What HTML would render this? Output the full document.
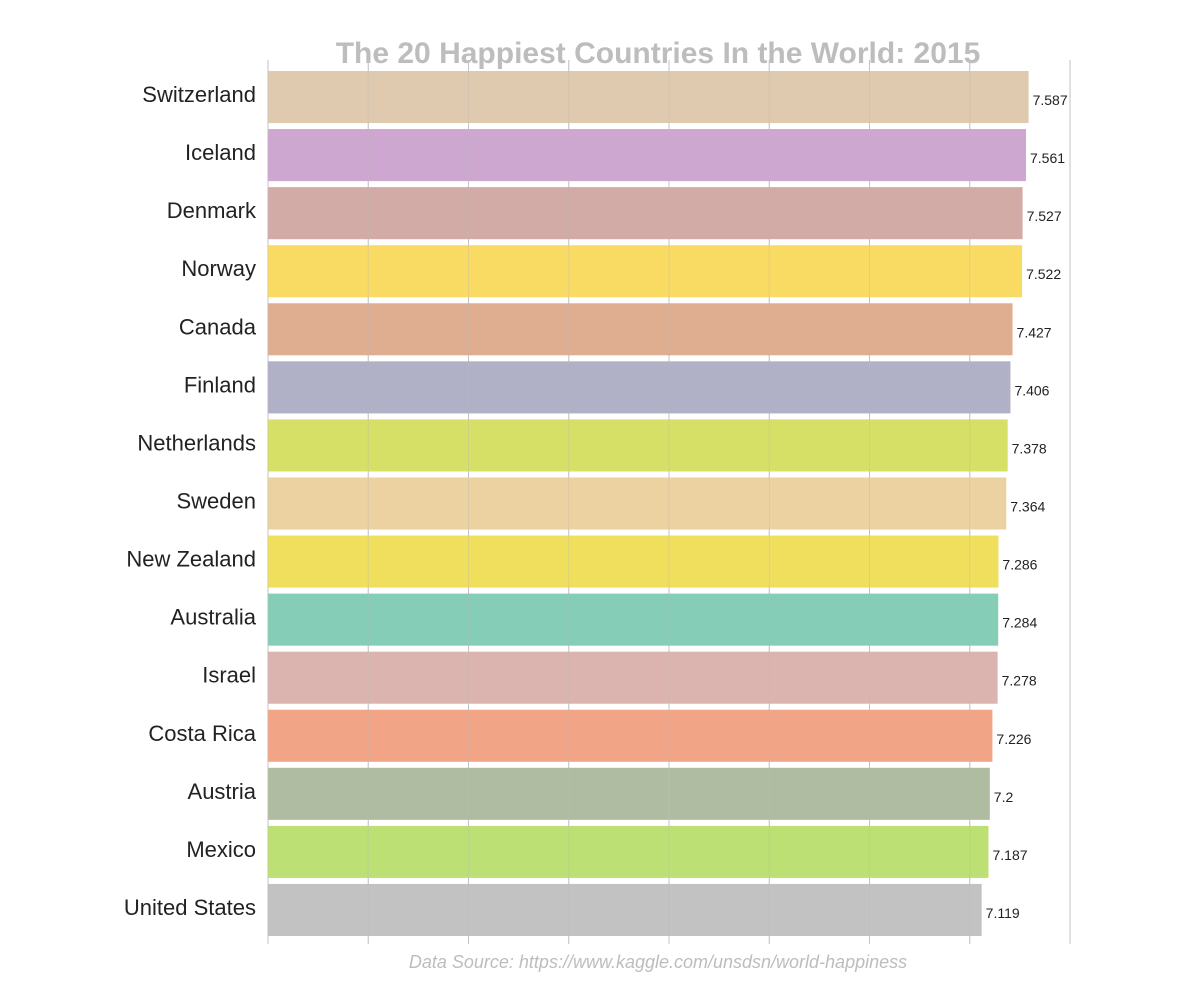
<!DOCTYPE html>
<html><head><meta charset="utf-8"><style>
body{margin:0;background:#fff;}
svg{display:block;font-family:"Liberation Sans",sans-serif;}
</style></head><body>
<svg id="chart" width="1200" height="1000" viewBox="0 0 1200 1000">
<text x="658" y="63" text-anchor="middle" font-size="30" font-weight="bold" fill="#bdbdbd">The 20 Happiest Countries In the World: 2015</text>
<g id="grid"></g><g id="bars"></g><g id="gridtop"></g>
<text x="658" y="968" text-anchor="middle" font-size="18" font-style="italic" fill="#bdbdbd">Data Source: https://www.kaggle.com/unsdsn/world-happiness</text>
</svg>
<script>
const countries=["Switzerland","Iceland","Denmark","Norway","Canada","Finland","Netherlands","Sweden","New Zealand","Australia","Israel","Costa Rica","Austria","Mexico","United States"];
const scores=[7.587,7.561,7.527,7.522,7.427,7.406,7.378,7.364,7.286,7.284,7.278,7.226,7.2,7.187,7.119];
const labels=["7.587","7.561","7.527","7.522","7.427","7.406","7.378","7.364","7.286","7.284","7.278","7.226","7.2","7.187","7.119"];
const colors=["#dfcaaf","#cda7d0","#d2aaa6","#f9da62","#dfad90","#b0b0c7","#d6df66","#ecd2a0","#efdf5c","#85cdb6","#dbb4b0","#f2a486","#b0bca2","#bde075","#c2c2c2"];
const xTicks=[0,1,2,3,4,5,6,7,8];
const NS="http://www.w3.org/2000/svg";
const x0=268,x1=1070,xmax=8,yTop=68,yBot=939;
const xs=v=>x0+(x1-x0)*v/xmax;
const band=(yBot-yTop)/countries.length;
const yb=i=>yTop+i*band;
function mk(t,a,p){const e=document.createElementNS(NS,t);for(const k in a)e.setAttribute(k,a[k]);p.appendChild(e);return e;}
const grid=document.getElementById('grid'),bars=document.getElementById('bars'),gt=document.getElementById('gridtop');
xTicks.forEach(t=>{
 const l=mk('line',{x1:xs(t),x2:xs(t),y1:60,y2:944,stroke:'#c8c8c8','stroke-width':1},grid);
 
 
 const l2=mk('line',{x1:xs(t),x2:xs(t),y1:60,y2:944,stroke:'#bbb','stroke-width':1,'stroke-opacity':0.35},gt);
 
 
});
countries.forEach((c,i)=>{
 const y=yb(i)+3,h=band-6;
 const r=mk('rect',{x:x0,y:y,width:xs(scores[i])-x0,height:h,fill:colors[i]},bars);
 
 
 const t=mk('text',{x:256,y:y+h/2+5,'text-anchor':'end','font-size':22,fill:'#222'},bars);
 t.textContent=c;
 
 
 const v=mk('text',{x:xs(scores[i])+4,y:y+h/2+8,'font-size':14,fill:'#222'},bars);
 v.textContent=labels[i];
 
 
});
</script>
</body></html>
